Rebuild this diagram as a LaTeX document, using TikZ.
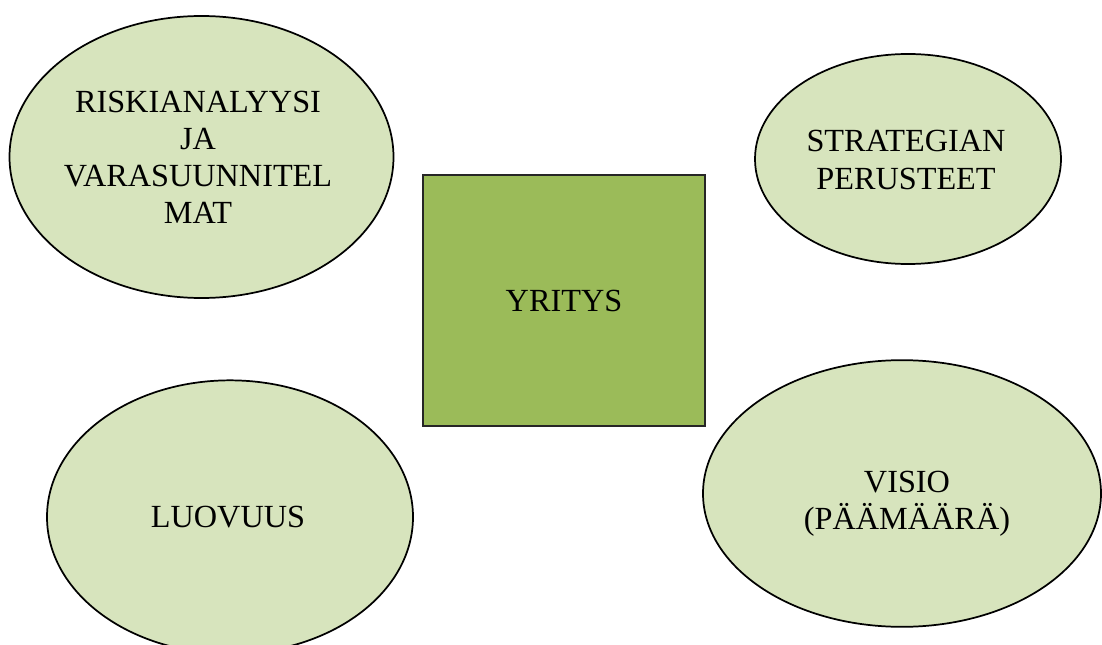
\documentclass[tikz,border=0pt]{standalone}
\usepackage{fontspec}
\setmainfont{Liberation Serif}
\usetikzlibrary{shapes.geometric}
\definecolor{bubblegreen}{HTML}{D7E4BD}
\definecolor{boxgreen}{HTML}{9BBB59}
\tikzset{
  bubble/.style={ellipse, draw=black, line width=1.3pt, fill=bubblegreen, inner sep=0pt},
  corebox/.style={rectangle, draw=black!85, line width=1.3pt, fill=boxgreen, inner sep=0pt},
  caption/.style={align=center, font=\fontsize{24.2}{27.8}\selectfont}
}
\begin{document}
\begin{tikzpicture}[x=0.75pt, y=-0.75pt]
\useasboundingbox (0,0) rectangle (1102,645);
% ellipses
\node[bubble, minimum width=288pt, minimum height=211.5pt] (riski) at (201.5,157) {};
\node[bubble, minimum width=229.5pt, minimum height=157.5pt] (strategia) at (908,159) {};
\node[bubble, minimum width=274.5pt, minimum height=205pt] (luovuus) at (230,517) {};
\node[bubble, minimum width=298.5pt, minimum height=200pt] (visio) at (902,493.5) {};
% centre box
\node[corebox, caption, minimum width=211.5pt, minimum height=188pt] (yritys) at (564,300.5) {YRITYS};
% texts
\node[caption] (riskiText) at (198,157) {RISKIANALYYSI\\JA\\VARASUUNNITEL\\MAT};
\node[caption] (strategiaText) at (906,160) {STRATEGIAN\\PERUSTEET};
\node[caption] (luovuusText) at (228,517) {LUOVUUS};
\node[caption] (visioText) at (907,504) {VISIO\\(PÄÄMÄÄRÄ)};
\end{tikzpicture}
\end{document}
